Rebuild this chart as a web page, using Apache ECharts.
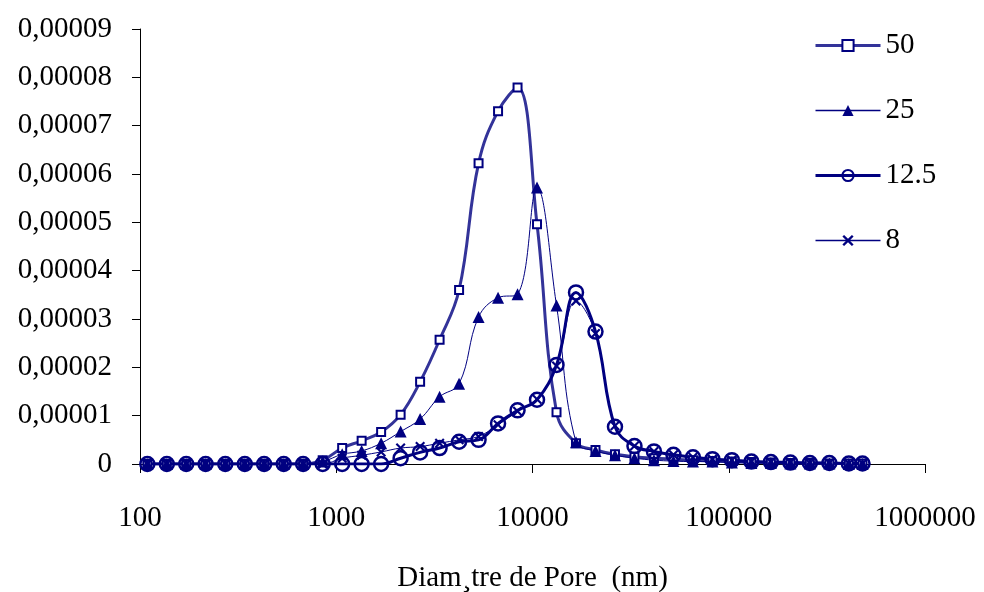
<!DOCTYPE html>
<html>
<head>
<meta charset="utf-8">
<script src="https://cdn.jsdelivr.net/npm/echarts@6/dist/echarts.min.js"></script>
<style>html,body{margin:0;padding:0;background:#fff}#c{width:984px;height:592px}</style>
</head>
<body>
<div id="c"></div>
<script>
// Pore diameters (nm)
const diameters = [109, 137, 172, 216, 272, 342, 429, 540, 678, 853,
  1072, 1347, 1693, 2128, 2675, 3362, 4226, 5311, 6676, 8391,
  10544, 13255, 16660, 20940, 26320, 33080, 41580, 52270, 65700, 82580,
  103750, 130430, 163930, 206060, 259000, 325540, 409170, 480400];

const s50 = [0,0,0,0,0,0,0,0,0,0.08e-5,
  0.33e-5,0.48e-5,0.66e-5,1.02e-5,1.70e-5,2.57e-5,3.60e-5,6.22e-5,7.30e-5,7.79e-5,
  4.96e-5,1.07e-5,0.43e-5,0.29e-5,0.20e-5,0.15e-5,0.12e-5,0.10e-5,0.08e-5,0.06e-5,
  0.05e-5,0.04e-5,0.03e-5,0.02e-5,0.02e-5,0.01e-5,0.01e-5,0.01e-5];

const s25 = [0,0,0,0,0,0,0,0,0,0.05e-5,
  0.20e-5,0.27e-5,0.43e-5,0.67e-5,0.93e-5,1.39e-5,1.66e-5,3.04e-5,3.44e-5,3.51e-5,
  5.72e-5,3.28e-5,0.45e-5,0.27e-5,0.18e-5,0.12e-5,0.08e-5,0.06e-5,0.05e-5,0.05e-5,
  0.03e-5,0.02e-5,0.02e-5,0.01e-5,0.01e-5,0.01e-5,0,0];

const s125 = [0,0,0,0,0,0,0,0,0,0,
  0,0,0,0.12e-5,0.24e-5,0.33e-5,0.46e-5,0.50e-5,0.84e-5,1.11e-5,
  1.33e-5,2.05e-5,3.55e-5,2.74e-5,0.77e-5,0.37e-5,0.26e-5,0.19e-5,0.14e-5,0.10e-5,
  0.08e-5,0.05e-5,0.04e-5,0.03e-5,0.02e-5,0.02e-5,0.01e-5,0.01e-5];

const s8 = [0,0,0,0,0,0,0,0,0,0,
  0.12e-5,0.18e-5,0.25e-5,0.33e-5,0.36e-5,0.43e-5,0.50e-5,0.57e-5,0.81e-5,1.09e-5,
  1.34e-5,2.03e-5,3.37e-5,2.70e-5,0.79e-5,0.37e-5,0.26e-5,0.19e-5,0.14e-5,0.10e-5,
  0.08e-5,0.05e-5,0.04e-5,0.03e-5,0.02e-5,0.02e-5,0.01e-5,0.01e-5];

const seriesNames = ['50', '25', '12.5', '8'];
const xTitle = 'Diam\u00b8tre de Pore  (nm)';

const pairs = arr => arr.map((v, i) => [diameters[i], v]);
const NAVY = '#000080';
const LINE50 = '#333399';
const FONT = '"Liberation Serif", "Times New Roman", serif';
const FS = 29;
const xShape = 'path://M0,1.5 L1.5,0 L5,3.5 L8.5,0 L10,1.5 L6.5,5 L10,8.5 L8.5,10 L5,6.5 L1.5,10 L0,8.5 L3.5,5 Z';

const chart = echarts.init(document.getElementById('c'), null, {renderer: 'canvas'});
chart.setOption({
  animation: false,
  backgroundColor: '#fff',
  grid: {left: 140, right: 59, top: 29, bottom: 128, containLabel: false, outerBoundsMode: 'none'},
  legend: {
    orient: 'vertical', left: 809, top: 26,
    itemWidth: 65, itemHeight: 14, itemGap: 36,
    data: [
      {name: seriesNames[0], lineStyle: {width: 3, color: LINE50}},
      {name: seriesNames[1], lineStyle: {width: 1.5, color: NAVY}},
      {name: seriesNames[2], lineStyle: {width: 3, color: NAVY}},
      {name: seriesNames[3], lineStyle: {width: 1.5, color: NAVY}}
    ],
    textStyle: {fontFamily: FONT, fontSize: FS, color: '#000'}
  },
  xAxis: {
    type: 'log', logBase: 10, min: 100, max: 1000000,
    name: xTitle, nameLocation: 'middle', nameGap: 100,
    nameTextStyle: {fontFamily: FONT, fontSize: FS, color: '#000'},
    axisLine: {lineStyle: {color: '#000', width: 1}},
    axisTick: {show: true, length: 9, lineStyle: {color: '#000'}},
    minorTick: {show: false},
    splitLine: {show: false},
    axisLabel: {fontFamily: FONT, fontSize: FS, color: '#000', margin: 40,
      formatter: v => String(Math.round(v))}
  },
  yAxis: {
    type: 'value', min: 0, max: 0.00009, interval: 0.00001,
    axisLine: {show: true, lineStyle: {color: '#000', width: 1}},
    axisTick: {show: true, length: 8, lineStyle: {color: '#000'}},
    splitLine: {show: false},
    axisLabel: {fontFamily: FONT, fontSize: FS, color: '#000', margin: 28,
      formatter: v => v === 0 ? '0' : v.toFixed(5).replace('.', ',')}
  },
  series: [
    {name: seriesNames[0], type: 'line', data: pairs(s50), smooth: 0.4,
      symbol: 'rect', symbolSize: 8,
      lineStyle: {color: LINE50, width: 3},
      itemStyle: {color: '#fff', borderColor: NAVY, borderWidth: 2}},
    {name: seriesNames[1], type: 'line', data: pairs(s25), smooth: 0.4,
      symbol: 'triangle', symbolSize: 12,
      lineStyle: {color: NAVY, width: 1},
      itemStyle: {color: NAVY, borderColor: NAVY, borderWidth: 0}},
    {name: seriesNames[2], type: 'line', data: pairs(s125), smooth: 0.4,
      symbol: 'circle', symbolSize: 14,
      lineStyle: {color: NAVY, width: 3},
      itemStyle: {color: 'rgba(255,255,255,0)', borderColor: NAVY, borderWidth: 2.5}},
    {name: seriesNames[3], type: 'line', data: pairs(s8), smooth: 0.4,
      symbol: xShape, symbolSize: 10,
      lineStyle: {color: NAVY, width: 1},
      itemStyle: {color: NAVY, borderWidth: 0}}
  ]
});
</script>
</body>
</html>
